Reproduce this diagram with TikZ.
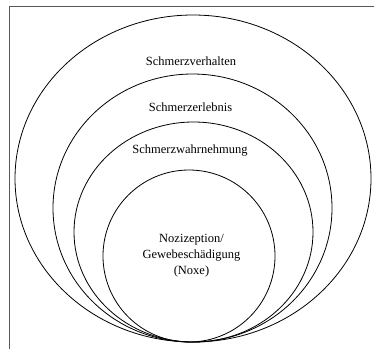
\documentclass[tikz,border=0pt]{standalone}
\usepackage{fontspec}
\setmainfont{Liberation Serif}
\usetikzlibrary{shapes.geometric}
\tikzset{
  ring/.style={draw=black, line width=0.8pt, ellipse, inner sep=0pt, fill=none},
  lbl/.style={font=\fontsize{12.5}{16}\selectfont, align=center, inner sep=0pt},
  frameline/.style={draw=black!65, line width=0.7pt}
}
\begin{document}
\begin{tikzpicture}[x=1pt,y=-1pt]
\useasboundingbox (0,0) rectangle (374,349);
\coordinate (fTL) at (9,6.5);
\coordinate (fTR) at (374,6.5);
\coordinate (fBL) at (9,349);
\draw[frameline] (fBL) -- (fTL) -- (fTR);
\node[ring, minimum width=356pt, minimum height=327pt] (outer) at (193,178.5) {};
\node[ring, minimum width=279pt, minimum height=268pt] (second) at (192.5,208) {};
\node[ring, minimum width=239pt, minimum height=220pt] (third) at (193.5,232) {};
\node[ring, minimum width=172pt, minimum height=172pt] (inner) at (189,256) {};
\node[lbl] (t1) at (191,61) {Schmerzverhalten};
\node[lbl] (t2) at (190.5,107) {Schmerzerlebnis};
\node[lbl] (t3) at (190,151) {Schmerzwahrnehmung};
\node[lbl] (t4) at (191.5,256) {Nozizeption/\\Gewebeschädigung\\(Noxe)};
\end{tikzpicture}
\end{document}
